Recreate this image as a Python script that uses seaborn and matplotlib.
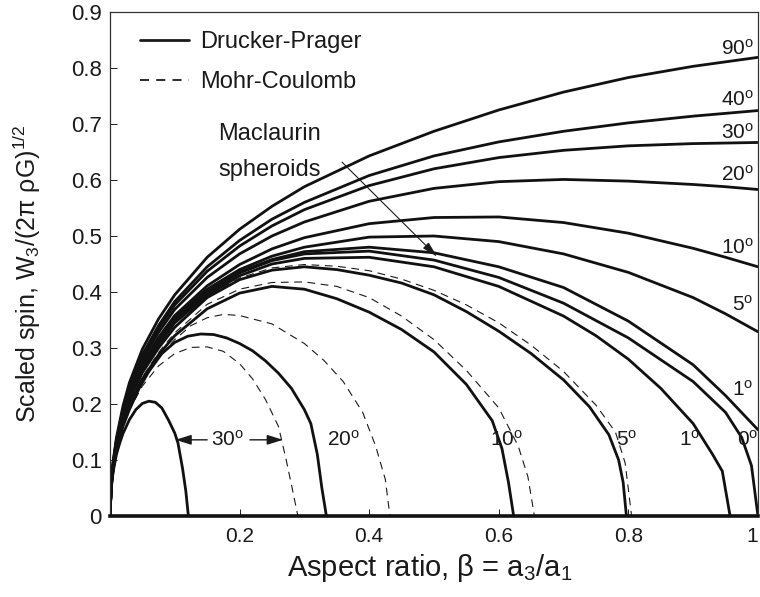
import numpy as np
import pandas as pd
import seaborn as sns
from matplotlib import pyplot as plt
from matplotlib.lines import Line2D

# upper limits (Drucker-Prager), all curves share this x grid
x_up = [0, 0.002, 0.005, 0.01, 0.02, 0.03, 0.05, 0.075, 0.1, 0.15, 0.2, 0.25,
        0.3, 0.4, 0.5, 0.6, 0.7, 0.8, 0.9, 0.95, 1.0]
dp_up_90 = [0, 0.063, 0.099, 0.140, 0.196, 0.238, 0.298, 0.352, 0.395, 0.462, 0.512,
            0.553, 0.588, 0.643, 0.687, 0.725, 0.757, 0.783, 0.803, 0.811, 0.819]
dp_up_40 = [0, 0.061, 0.096, 0.136, 0.190, 0.232, 0.288, 0.340, 0.383, 0.445, 0.492,
            0.530, 0.560, 0.608, 0.643, 0.668, 0.687, 0.702, 0.714, 0.719, 0.724]
dp_up_30 = [0, 0.060, 0.095, 0.134, 0.188, 0.229, 0.284, 0.335, 0.377, 0.437, 0.482,
            0.518, 0.547, 0.590, 0.620, 0.640, 0.653, 0.661, 0.665, 0.666, 0.667]
dp_up_20 = [0, 0.059, 0.093, 0.132, 0.185, 0.225, 0.279, 0.328, 0.369, 0.426, 0.468,
            0.500, 0.525, 0.562, 0.585, 0.597, 0.601, 0.598, 0.592, 0.588, 0.583]
dp_up_10 = [0, 0.058, 0.091, 0.130, 0.181, 0.220, 0.272, 0.319, 0.358, 0.411, 0.449,
            0.477, 0.497, 0.522, 0.533, 0.534, 0.524, 0.505, 0.478, 0.462, 0.445]
dp_up_5 = [0, 0.057, 0.090, 0.128, 0.179, 0.217, 0.268, 0.314, 0.354, 0.405, 0.440,
           0.464, 0.480, 0.498, 0.500, 0.490, 0.468, 0.435, 0.390, 0.361, 0.329]
dp_up_1 = [0, 0.056, 0.089, 0.126, 0.177, 0.214, 0.265, 0.310, 0.350, 0.400, 0.436,
           0.458, 0.472, 0.480, 0.470, 0.445, 0.408, 0.348, 0.270, 0.215, 0.154]

# 0 deg = Maclaurin spheroids
x_mac = [0, 0.002, 0.005, 0.01, 0.02, 0.03, 0.05, 0.075, 0.1, 0.15, 0.2, 0.25, 0.3,
         0.4, 0.5, 0.6, 0.7, 0.8, 0.9, 0.95, 0.975, 0.99, 1.0]
y_mac = [0, 0.056, 0.088, 0.125, 0.175, 0.212, 0.262, 0.308, 0.348, 0.398, 0.434,
         0.456, 0.468, 0.473, 0.457, 0.426, 0.380, 0.318, 0.240, 0.185, 0.140, 0.090, 0]

# lower limits, Drucker-Prager (solid)
x_lo_1 = [0, 0.002, 0.005, 0.01, 0.02, 0.03, 0.05, 0.075, 0.1, 0.15, 0.2, 0.25, 0.3,
          0.4, 0.5, 0.6, 0.7, 0.75, 0.8, 0.85, 0.9, 0.93, 0.945, 0.957]
y_lo_1 = [0, 0.056, 0.088, 0.124, 0.174, 0.211, 0.260, 0.306, 0.345, 0.394, 0.429,
          0.450, 0.460, 0.462, 0.445, 0.410, 0.357, 0.322, 0.280, 0.228, 0.165, 0.110,
          0.080, 0]
x_lo_5 = [0, 0.002, 0.005, 0.01, 0.02, 0.03, 0.05, 0.075, 0.1, 0.15, 0.2, 0.25, 0.3,
          0.35, 0.4, 0.45, 0.5, 0.55, 0.6, 0.65, 0.7, 0.74, 0.77, 0.785, 0.792, 0.797]
y_lo_5 = [0, 0.055, 0.087, 0.123, 0.172, 0.208, 0.256, 0.300, 0.337, 0.390, 0.422,
          0.439, 0.445, 0.440, 0.430, 0.416, 0.395, 0.365, 0.330, 0.290, 0.243, 0.195,
          0.145, 0.100, 0.060, 0]
x_lo_10 = [0, 0.002, 0.005, 0.01, 0.02, 0.03, 0.05, 0.075, 0.1, 0.15, 0.2, 0.25, 0.3,
           0.35, 0.4, 0.45, 0.5, 0.55, 0.59, 0.605, 0.615, 0.623]
y_lo_10 = [0, 0.054, 0.085, 0.120, 0.167, 0.200, 0.245, 0.288, 0.322, 0.370, 0.398,
           0.410, 0.405, 0.388, 0.364, 0.333, 0.293, 0.235, 0.170, 0.120, 0.060, 0]
x_lo_20 = [0, 0.002, 0.005, 0.01, 0.02, 0.03, 0.045, 0.06, 0.08, 0.1, 0.12, 0.14, 0.16,
           0.18, 0.2, 0.22, 0.24, 0.26, 0.28, 0.3, 0.31, 0.32, 0.327, 0.334]
y_lo_20 = [0, 0.053, 0.083, 0.117, 0.160, 0.190, 0.228, 0.258, 0.290, 0.310, 0.321,
           0.325, 0.324, 0.318, 0.308, 0.295, 0.277, 0.255, 0.228, 0.190, 0.165, 0.110,
           0.050, 0]
x_lo_30 = [0, 0.002, 0.005, 0.01, 0.015, 0.02, 0.03, 0.04, 0.05, 0.06, 0.07, 0.08,
           0.09, 0.1, 0.105, 0.112, 0.117, 0.121]
y_lo_30 = [0, 0.050, 0.080, 0.110, 0.130, 0.147, 0.172, 0.190, 0.201, 0.205, 0.203,
           0.193, 0.172, 0.148, 0.130, 0.085, 0.045, 0]

# lower limits, Mohr-Coulomb (dashed)
x_mc_5 = [0, 0.002, 0.005, 0.01, 0.02, 0.03, 0.05, 0.075, 0.1, 0.15, 0.2, 0.25, 0.3,
          0.35, 0.4, 0.45, 0.5, 0.55, 0.6, 0.65, 0.7, 0.75, 0.78, 0.795, 0.805]
y_mc_5 = [0, 0.055, 0.087, 0.123, 0.172, 0.208, 0.256, 0.301, 0.338, 0.392, 0.425,
          0.443, 0.449, 0.446, 0.438, 0.423, 0.403, 0.377, 0.345, 0.305, 0.258, 0.198,
          0.150, 0.095, 0]
x_mc_10 = [0, 0.005, 0.01, 0.02, 0.03, 0.05, 0.075, 0.1, 0.15, 0.2, 0.25, 0.3, 0.35,
           0.4, 0.45, 0.5, 0.55, 0.6, 0.63, 0.645, 0.655]
y_mc_10 = [0, 0.086, 0.121, 0.168, 0.202, 0.248, 0.292, 0.327, 0.378, 0.405, 0.417,
           0.418, 0.410, 0.390, 0.357, 0.315, 0.260, 0.193, 0.125, 0.070, 0]
x_mc_20 = [0, 0.005, 0.01, 0.02, 0.03, 0.05, 0.075, 0.1, 0.125, 0.15, 0.175, 0.2, 0.25,
           0.3, 0.33, 0.36, 0.39, 0.41, 0.425, 0.432]
y_mc_20 = [0, 0.084, 0.118, 0.163, 0.196, 0.240, 0.282, 0.315, 0.340, 0.354, 0.360,
           0.358, 0.343, 0.308, 0.278, 0.240, 0.185, 0.125, 0.065, 0]
x_mc_30 = [0, 0.005, 0.01, 0.02, 0.03, 0.05, 0.075, 0.1, 0.125, 0.15, 0.175, 0.2, 0.22,
           0.24, 0.26, 0.272, 0.282, 0.29]
y_mc_30 = [0, 0.082, 0.115, 0.158, 0.190, 0.232, 0.268, 0.290, 0.301, 0.302, 0.294,
           0.272, 0.245, 0.208, 0.160, 0.100, 0.045, 0]

sns.set_theme(style="white")
plt.rcParams['font.family'] = ['Liberation Sans', 'DejaVu Sans']
plt.rcParams['mathtext.default'] = 'regular'

ink = '#1a1a1a'
fig = plt.figure(figsize=(7.6, 5.97), dpi=100)
ax = fig.add_axes([0.1447, 0.1357, 0.8526, 0.8442])

solid = [(x_up, dp_up_90), (x_up, dp_up_40), (x_up, dp_up_30), (x_up, dp_up_20),
         (x_up, dp_up_10), (x_up, dp_up_5), (x_up, dp_up_1), (x_mac, y_mac),
         (x_lo_1, y_lo_1), (x_lo_5, y_lo_5), (x_lo_10, y_lo_10), (x_lo_20, y_lo_20),
         (x_lo_30, y_lo_30)]
dashed = [(x_mc_5, y_mc_5), (x_mc_10, y_mc_10), (x_mc_20, y_mc_20), (x_mc_30, y_mc_30)]

for xs, ys in dashed:
    sns.lineplot(x=xs, y=ys, ax=ax, color='k', lw=0.8, linestyle=(0, (7, 5)),
                 estimator=None, sort=False)
for xs, ys in solid:
    sns.lineplot(x=xs, y=ys, ax=ax, color='#111111', lw=2.0, estimator=None, sort=False,
                 solid_joinstyle='round')

ax.set_xlim(0, 1)
ax.set_ylim(0, 0.9)
ax.set_xticks([0, 0.2, 0.4, 0.6, 0.8, 1.0])
ax.set_xticklabels(['', '0.2', '0.4', '0.6', '0.8', '1'])
ax.get_xticklabels()[-1].set_horizontalalignment('right')
ax.set_yticks(np.arange(0, 0.91, 0.1))
ax.set_yticklabels(['0', '0.1', '0.2', '0.3', '0.4', '0.5', '0.6', '0.7', '0.8', '0.9'])
ax.tick_params(axis='x', direction='in', length=5, width=0.7, labelsize=15, pad=8,
               bottom=True, colors=ink)
ax.tick_params(axis='y', direction='in', length=5, width=0.7, labelsize=16, pad=6,
               left=True, colors=ink)
for side in ['top', 'right', 'left']:
    ax.spines[side].set_linewidth(0.9)
    ax.spines[side].set_color('#333333')
ax.spines['bottom'].set_linewidth(2.6)
ax.spines['bottom'].set_color('#111111')

ax.set_xlabel('Aspect ratio, β = a$_3$/a$_1$', fontsize=21, color=ink)
ax.xaxis.set_label_coords(0.494, -0.072)
ax.set_ylabel('Scaled spin, W$_3$/(2π ρG)$^{1/2}$', fontsize=18, color=ink)
ax.yaxis.set_label_coords(-0.103, 0.48)

# curve labels
up_labels = [('90', 0.834), ('40', 0.744), ('30', 0.685), ('20', 0.610), ('10', 0.479),
             ('5', 0.377), ('1', 0.225)]
for txt, yv in up_labels:
    ax.text(0.993, yv, txt + '$^o$', ha='right', va='center', fontsize=15, color=ink)
ax.text(0.968, 0.136, '0$^o$', ha='left', va='center', fontsize=15, color=ink,
        clip_on=False)
lo_labels = [('1', 0.895), ('5', 0.798), ('10', 0.612), ('20', 0.36)]
for txt, xv in lo_labels:
    ax.text(xv, 0.136, txt + '$^o$', ha='center', va='center', fontsize=15, color=ink)
ax.text(0.182, 0.136, '30$^o$', ha='center', va='center', fontsize=15, color=ink)
ax.annotate('', xy=(0.101, 0.136), xytext=(0.150, 0.136),
            arrowprops=dict(arrowstyle='-|>,head_length=0.8,head_width=0.25', color='k',
                            lw=1, shrinkA=0, shrinkB=0))
ax.annotate('', xy=(0.267, 0.136), xytext=(0.216, 0.136),
            arrowprops=dict(arrowstyle='-|>,head_length=0.8,head_width=0.25', color='k',
                            lw=1, shrinkA=0, shrinkB=0))

ax.text(0.167, 0.683, 'Maclaurin', ha='left', va='center', fontsize=17, color=ink)
ax.text(0.167, 0.617, 'spheroids', ha='left', va='center', fontsize=17, color=ink)
ax.annotate('', xy=(0.505, 0.463), xytext=(0.358, 0.632),
            arrowprops=dict(arrowstyle='-|>,head_length=0.8,head_width=0.2', color='k',
                            lw=0.8, shrinkA=0, shrinkB=0))

handles = [Line2D([], [], color='k', lw=2.0),
           Line2D([], [], color='k', lw=1.3, linestyle=(0, (5, 4)))]
ax.legend(handles, ['Drucker-Prager', 'Mohr-Coulomb'], loc='upper left', frameon=False,
          fontsize=17, handlelength=2.1, handletextpad=0.45, labelspacing=0.75,
          bbox_to_anchor=(0.046, 0.962), borderaxespad=0, borderpad=0,
          labelcolor=ink)

plt.savefig('out.png', dpi=100)
